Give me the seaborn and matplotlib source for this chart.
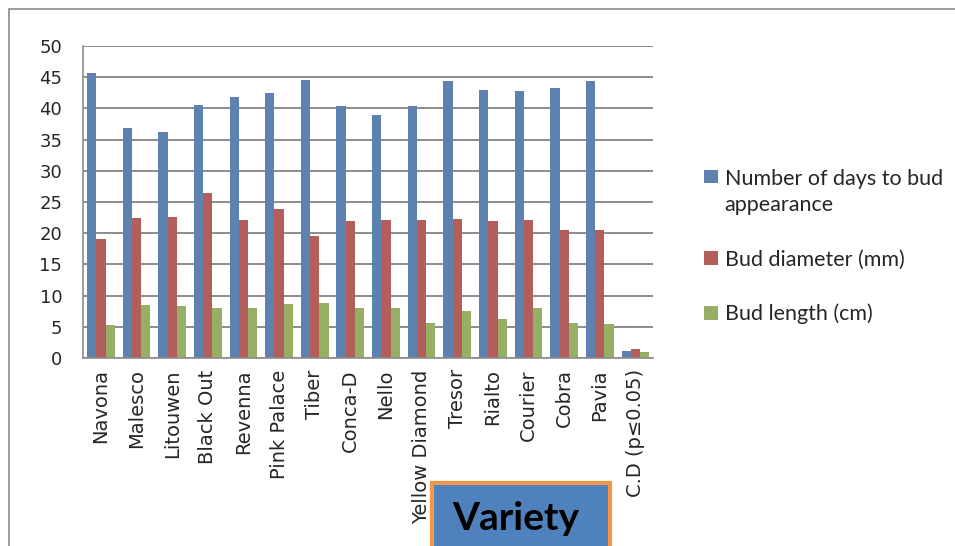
import pandas as pd
import seaborn as sns
import matplotlib.pyplot as plt
from matplotlib.patches import Rectangle

varieties = ["Navona", "Malesco", "Litouwen", "Black Out", "Revenna", "Pink Palace",
             "Tiber", "Conca-D", "Nello", "Yellow Diamond", "Tresor", "Rialto",
             "Courier", "Cobra", "Pavia", "C.D (p≤0.05)"]
days_to_bud = [45.6, 36.8, 36.2, 40.6, 41.8, 42.4, 44.5, 40.4, 39.0, 40.3,
               44.3, 42.9, 42.8, 43.3, 44.3, 1.2]
bud_diameter = [19.0, 22.5, 22.6, 26.5, 22.1, 23.9, 19.6, 22.0, 22.1, 22.1,
                22.3, 22.0, 22.1, 20.5, 20.5, 1.5]
bud_length = [5.3, 8.5, 8.3, 8.0, 8.0, 8.6, 8.9, 8.0, 8.0, 5.7,
              7.5, 6.3, 8.0, 5.6, 5.4, 1.0]
series = ["Number of days to bud\nappearance", "Bud diameter (mm)", "Bud length (cm)"]
colors = ["#4F81BD", "#C0504D", "#9BBB59"]

df = pd.DataFrame({"variety": varieties * 3,
                   "value": days_to_bud + bud_diameter + bud_length,
                   "series": [series[0]] * 16 + [series[1]] * 16 + [series[2]] * 16})

sns.set_style("white")
plt.rcParams["font.family"] = ["DejaVu Sans"]

fig = plt.figure(figsize=(9.55, 5.46), dpi=100)
ax = fig.add_axes([0.087, 0.344, 0.597, 0.572])

sns.barplot(data=df, x="variety", y="value", hue="series", palette=colors,
            width=0.78, edgecolor="none", ax=ax, legend=True)

ax.set_ylim(0, 50)
ax.set_xlim(-0.5, 15.5)
ax.set_yticks(range(0, 51, 5))
ax.yaxis.grid(True, color="#8c8c8c", linewidth=1.4)
ax.set_axisbelow(True)
ax.set_xlabel("")
ax.set_ylabel("")
for s in ["top", "right"]:
    ax.spines[s].set_visible(False)
for s in ["left", "bottom"]:
    ax.spines[s].set_color("#8c8c8c")
    ax.spines[s].set_linewidth(1.2)

ax.set_xticks(range(16))
ax.set_xticklabels(varieties, rotation=90, fontsize=14)
ax.set_xticks([i + 0.5 for i in range(-1, 16)], minor=True)
ax.tick_params(axis="x", which="major", length=0, pad=8)
ax.tick_params(axis="x", which="minor", length=6, color="#8c8c8c", width=1.2)
ax.tick_params(axis="y", length=6, color="#8c8c8c", width=1.2, labelsize=13, pad=9)

handles, labels = ax.get_legend_handles_labels()
ax.get_legend().remove()
leg = fig.legend(handles, labels, loc="upper left", bbox_to_anchor=(0.726, 0.711),
                 frameon=False, prop={"family": "Lato", "size": 15.5},
                 handlelength=0.65, handleheight=0.6, handletextpad=0.3,
                 labelspacing=1.6, borderpad=0)
leg.get_texts()[0].set_linespacing(1.4)
# Excel keeps the marker level with the first line of a wrapped label
h0 = leg.legend_handles[0]
h0.set_y(h0.get_y() + 11.3)

# outer chart border
fig.patches.append(Rectangle((9 / 955, -0.1), 2, 0.1 + 1 - 9 / 546,
                             transform=fig.transFigure, fill=False,
                             ec="#8a8a8a", lw=1.2))

# "Variety" box
fig.patches.append(Rectangle((432 / 955, -0.05), 178 / 955, 0.05 + 1 - 483 / 546,
                             transform=fig.transFigure, fc="#4F81BD",
                             ec="#F79646", lw=3))
fig.text(516 / 955, 1 - 518 / 546, "Variety", ha="center", va="center",
         fontsize=28, fontweight="bold", family="Lato", color="black")

fig.savefig("out.png", dpi=100)
